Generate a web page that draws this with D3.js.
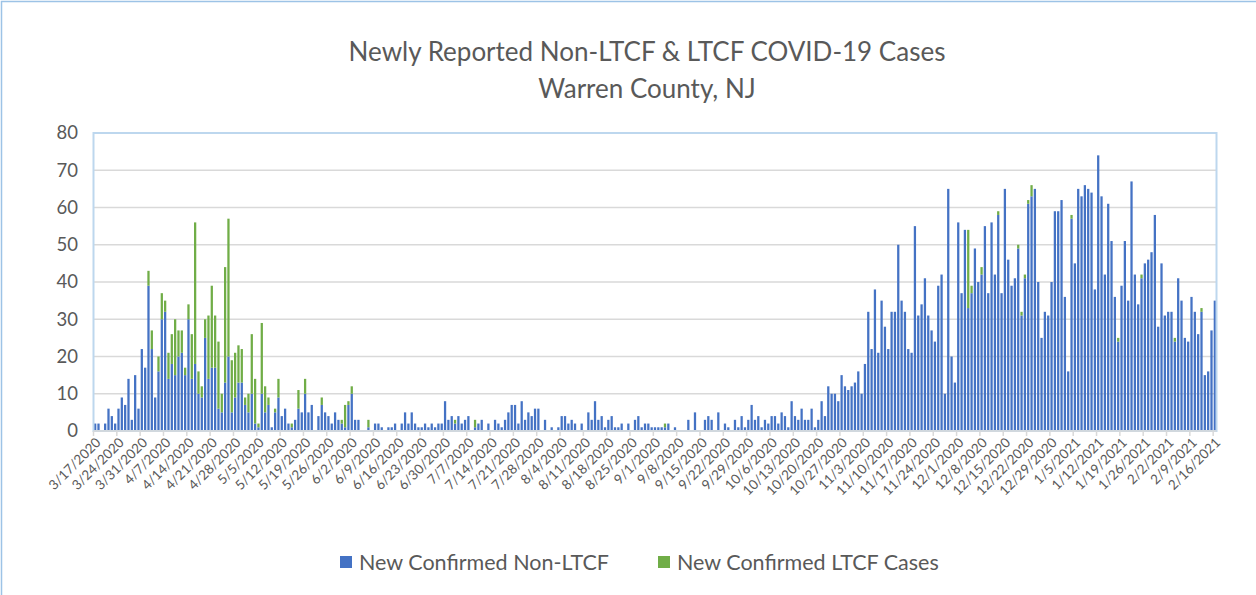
<!DOCTYPE html>
<html>
<head>
<meta charset="utf-8">
<script src="https://cdn.jsdelivr.net/npm/d3@7"></script>
<style>
    body { margin: 0; background: #fff; }
    svg { font-family: Lato, "Open Sans", sans-serif; }
</style>
</head>
<body>
<svg id="chart" width="1256" height="595"></svg>
<script>
// daily new cases, one row per week, starting 3/17/2020
const nonLtcf = [
    2, 2, 0, 2, 6, 4, 2,
    6, 9, 7, 14, 3, 15, 6,
    22, 17, 39, 22, 9, 16, 30,
    32, 14, 18, 15, 20, 21, 15,
    30, 14, 18, 10, 9, 25, 14,
    17, 17, 6, 5, 13, 20, 5,
    9, 13, 13, 7, 5, 10, 2,
    1, 10, 5, 7, 1, 5, 9,
    4, 6, 2, 1, 3, 6, 5,
    10, 5, 7, 0, 4, 7, 5,
    4, 2, 5, 3, 2, 1, 7,
    10, 3, 3, 0, 0, 1, 0,
    2, 2, 1, 0, 1, 1, 2,
    0, 2, 5, 2, 5, 2, 1,
    1, 2, 1, 2, 1, 2, 2,
    8, 3, 4, 2, 4, 2, 3,
    4, 0, 1, 2, 3, 0, 2,
    0, 3, 2, 1, 3, 5, 7,
    7, 2, 8, 3, 5, 4, 6,
    6, 0, 3, 0, 1, 0, 1,
    4, 4, 2, 3, 2, 0, 2,
    0, 5, 3, 8, 3, 4, 1,
    3, 4, 1, 1, 2, 0, 2,
    0, 3, 4, 1, 2, 2, 1,
    1, 1, 1, 1, 2, 0, 1,
    0, 0, 0, 3, 0, 5, 0,
    0, 3, 4, 3, 0, 5, 0,
    2, 1, 0, 3, 1, 4, 1,
    3, 7, 3, 4, 1, 3, 2,
    4, 4, 2, 5, 4, 1, 8,
    4, 3, 6, 3, 3, 6, 1,
    3, 8, 4, 12, 10, 10, 8,
    15, 12, 11, 12, 13, 16, 10,
    18, 32, 22, 38, 21, 35, 28,
    22, 32, 32, 50, 35, 32, 22,
    21, 55, 31, 34, 41, 31, 27,
    24, 39, 42, 10, 65, 20, 13,
    56, 37, 54, 33, 37, 49, 40,
    42, 55, 37, 56, 42, 58, 37,
    65, 46, 39, 41, 49, 31, 41,
    61, 63, 65, 40, 25, 32, 31,
    40, 59, 59, 62, 36, 16, 57,
    45, 65, 63, 66, 65, 64, 38,
    74, 63, 42, 61, 51, 36, 24,
    39, 51, 35, 67, 42, 34, 41,
    45, 46, 48, 58, 28, 45, 31,
    32, 32, 24, 41, 35, 25, 24,
    36, 32, 26, 32, 15, 16, 27,
    35
];

const ltcf = [
    0, 0, 0, 0, 0, 0, 0,
    0, 0, 0, 0, 0, 0, 0,
    0, 0, 4, 5, 0, 4, 7,
    3, 7, 8, 15, 7, 6, 2,
    4, 12, 38, 6, 3, 5, 17,
    22, 14, 18, 5, 31, 37, 14,
    12, 10, 9, 2, 5, 16, 12,
    1, 19, 7, 2, 0, 1, 5,
    0, 0, 0, 1, 0, 5, 0,
    4, 0, 0, 0, 0, 2, 0,
    0, 0, 0, 0, 1, 6, 1,
    2, 0, 0, 0, 0, 2, 0,
    0, 0, 0, 0, 0, 0, 0,
    0, 0, 0, 0, 0, 0, 0,
    0, 0, 0, 0, 0, 0, 0,
    0, 0, 0, 1, 0, 0, 0,
    0, 0, 2, 0, 0, 0, 0,
    0, 0, 0, 0, 0, 0, 0,
    0, 0, 0, 0, 0, 0, 0,
    0, 0, 0, 0, 0, 0, 0,
    0, 0, 0, 0, 0, 0, 0,
    0, 0, 0, 0, 0, 0, 0,
    0, 0, 0, 0, 0, 0, 0,
    0, 0, 0, 0, 0, 0, 0,
    0, 0, 0, 1, 0, 0, 0,
    0, 0, 0, 0, 0, 0, 0,
    0, 0, 0, 0, 0, 0, 0,
    0, 0, 0, 0, 0, 0, 0,
    0, 0, 0, 0, 0, 0, 0,
    0, 0, 0, 0, 0, 0, 0,
    0, 0, 0, 0, 0, 0, 0,
    0, 0, 0, 0, 0, 0, 0,
    0, 0, 0, 0, 0, 0, 0,
    0, 0, 0, 0, 0, 0, 0,
    0, 0, 0, 0, 0, 0, 0,
    0, 0, 0, 0, 0, 0, 0,
    0, 0, 0, 0, 0, 0, 0,
    0, 0, 0, 21, 2, 0, 0,
    2, 0, 0, 0, 0, 1, 0,
    0, 0, 0, 0, 1, 1, 1,
    1, 3, 0, 0, 0, 0, 0,
    0, 0, 0, 0, 0, 0, 1,
    0, 0, 0, 0, 0, 0, 0,
    0, 0, 0, 0, 0, 0, 1,
    0, 0, 0, 0, 0, 0, 1,
    0, 0, 0, 0, 0, 0, 0,
    0, 0, 1, 0, 0, 0, 0,
    0, 0, 0, 1, 0, 0, 0,
    0
];

// one label every 7 days
const tickLabels = [
    "3/17/2020", "3/24/2020", "3/31/2020", "4/7/2020", "4/14/2020", "4/21/2020", "4/28/2020",
    "5/5/2020", "5/12/2020", "5/19/2020", "5/26/2020", "6/2/2020", "6/9/2020", "6/16/2020",
    "6/23/2020", "6/30/2020", "7/7/2020", "7/14/2020", "7/21/2020", "7/28/2020", "8/4/2020",
    "8/11/2020", "8/18/2020", "8/25/2020", "9/1/2020", "9/8/2020", "9/15/2020", "9/22/2020",
    "9/29/2020", "10/6/2020", "10/13/2020", "10/20/2020", "10/27/2020", "11/3/2020", "11/10/2020",
    "11/17/2020", "11/24/2020", "12/1/2020", "12/8/2020", "12/15/2020", "12/22/2020", "12/29/2020",
    "1/5/2021", "1/12/2021", "1/19/2021", "1/26/2021", "2/2/2021", "2/9/2021", "2/16/2021"
];
const yTicks = [0, 10, 20, 30, 40, 50, 60, 70, 80];

const seriesNames = ["New Confirmed Non-LTCF", "New Confirmed LTCF Cases"];
const colors = ["#4472C4", "#70AD47"];
const textColor = "#595959";

const margin = { top: 133, right: 39.5, bottom: 164, left: 93.5 };
const width = 1256, height = 595;

const svg = d3.select("#chart");

// outer chart border (only left/top edges fall in view)
svg.append("rect")
    .attr("x", 1.5).attr("y", 1.5)
    .attr("width", width + 10).attr("height", height + 10)
    .attr("fill", "none")
    .attr("stroke", "#9DC3E6")
    .attr("stroke-width", 1.5);

const rows = nonLtcf.map((v, i) => ({ i: i, a: v, b: ltcf[i] }));
const stacked = d3.stack().keys(["a", "b"])(rows);

const x = d3.scaleBand()
    .domain(d3.range(nonLtcf.length))
    .range([margin.left, width - margin.right])
    .paddingInner(0.32)
    .paddingOuter(0.16);

const y = d3.scaleLinear()
    .domain([0, 80])
    .range([height - margin.bottom, margin.top]);

// gridlines
svg.append("g")
    .selectAll("line")
    .data(yTicks.slice(1))
    .enter().append("line")
    .attr("x1", margin.left).attr("x2", width - margin.right)
    .attr("y1", d => y(d)).attr("y2", d => y(d))
    .attr("stroke", "#D9D9D9")
    .attr("stroke-width", 1.5);

// bars
svg.append("g")
    .selectAll("g")
    .data(stacked)
    .enter().append("g")
    .attr("fill", (d, k) => colors[k])
    .selectAll("rect")
    .data(d => d.filter(p => p[1] > p[0]))
    .enter().append("rect")
    .attr("x", p => x(p.data.i))
    .attr("width", x.bandwidth())
    .attr("y", p => y(p[1]))
    .attr("height", p => y(p[0]) - y(p[1]));

// plot area border
svg.append("rect")
    .attr("x", margin.left).attr("y", margin.top)
    .attr("width", width - margin.right - margin.left)
    .attr("height", y(0) - margin.top)
    .attr("fill", "none")
    .attr("stroke", "#BDD7EE")
    .attr("stroke-width", 2);

// x axis line + weekly tick marks
const step = x.step();
svg.append("line")
    .attr("x1", margin.left).attr("x2", width - margin.right)
    .attr("y1", y(0)).attr("y2", y(0))
    .attr("stroke", "#D9D9D9")
    .attr("stroke-width", 1.5);

svg.append("g")
    .selectAll("line")
    .data(d3.range(0, nonLtcf.length + 1, 7))
    .enter().append("line")
    .attr("x1", d => margin.left + d * step)
    .attr("x2", d => margin.left + d * step)
    .attr("y1", y(0)).attr("y2", y(0) + 5)
    .attr("stroke", "#D9D9D9")
    .attr("stroke-width", 1.5);

// rotated date labels
svg.append("g")
    .selectAll("text")
    .data(tickLabels)
    .enter().append("text")
    .attr("transform", (d, k) => `translate(${x(k * 7) + x.bandwidth() / 2 + 3}, ${y(0) + 9}) rotate(-45)`)
    .attr("text-anchor", "end")
    .attr("dy", "0.35em")
    .attr("fill", textColor)
    .attr("font-size", 13.5)
    .text(d => d);

// y labels
svg.append("g")
    .selectAll("text")
    .data(yTicks)
    .enter().append("text")
    .attr("x", 78)
    .attr("y", d => y(d))
    .attr("dy", "0.35em")
    .attr("text-anchor", "end")
    .attr("fill", textColor)
    .attr("font-size", 18.5)
    .text(d => d);

// title
const title = svg.append("text")
    .attr("text-anchor", "middle")
    .attr("fill", textColor)
    .attr("font-size", 26);
title.append("tspan").attr("x", 647).attr("y", 61).text("Newly Reported Non-LTCF & LTCF COVID-19 Cases");
title.append("tspan").attr("x", 647).attr("y", 98).text("Warren County, NJ");

// legend
const legendX = [340, 658];
const legend = svg.append("g")
    .selectAll("g")
    .data(seriesNames)
    .enter().append("g")
    .attr("transform", (d, k) => `translate(${legendX[k]}, 562)`);

legend.append("rect")
    .attr("x", 0).attr("y", -6)
    .attr("width", 12).attr("height", 12)
    .attr("fill", (d, k) => colors[k]);

legend.append("text")
    .attr("x", 19)
    .attr("dy", "0.35em")
    .attr("fill", textColor)
    .attr("font-size", 21.5)
    .text(d => d);
</script>
</body>
</html>
